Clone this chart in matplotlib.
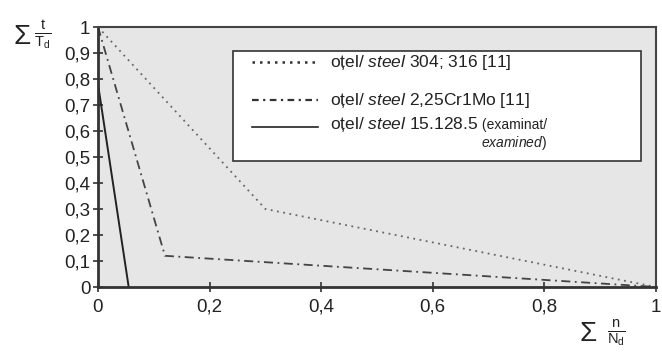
import matplotlib
matplotlib.use("Agg")
import matplotlib.pyplot as plt
from matplotlib.patches import Rectangle
from matplotlib.lines import Line2D

plt.rcParams['font.family'] = ['Liberation Sans', 'DejaVu Sans']
plt.rcParams['mathtext.fontset'] = 'custom'
plt.rcParams['mathtext.rm'] = 'Liberation Sans'
plt.rcParams['mathtext.it'] = 'Liberation Sans:italic'
plt.rcParams['mathtext.bf'] = 'Liberation Sans:bold'

# Data
steel_304_x = [0.0, 0.30, 1.0]
steel_304_y = [1.0, 0.30, 0.0]
steel_cr_x = [0.0, 0.12, 1.0]
steel_cr_y = [1.0, 0.12, 0.0]
steel_exam_x = [0.0, 0.055]
steel_exam_y = [0.78, 0.0]

xticks = [0, 0.2, 0.4, 0.6, 0.8, 1.0]
xticklabels = ["0", "0,2", "0,4", "0,6", "0,8", "1"]
yticks = [0, 0.1, 0.2, 0.3, 0.4, 0.5, 0.6, 0.7, 0.8, 0.9, 1.0]
yticklabels = ["0", "0,1", "0,2", "0,3", "0,4", "0,5", "0,6", "0,7", "0,8", "0,9", "1"]

fig = plt.figure(figsize=(6.62, 3.56), dpi=100)
ax = fig.add_axes([98/662, 69/356, 558/662, 260/356])
ax.set_facecolor('#e6e6e6')

ax.plot(steel_304_x, steel_304_y, color='#666666', lw=1.3, ls=(0, (1, 2.5)))
ax.plot(steel_cr_x, steel_cr_y, color='#444444', lw=1.3, ls=(0, (5, 2.5, 1, 2.5)))
ax.plot(steel_exam_x, steel_exam_y, color='#222222', lw=1.4, ls='-')

ax.set_xlim(0, 1)
ax.set_ylim(0, 1)
ax.set_xticks(xticks)
ax.set_xticklabels(xticklabels)
ax.set_yticks(yticks)
ax.set_yticklabels(yticklabels)
ax.tick_params(axis='both', direction='inout', length=7, width=1.2, color='#333333',
               labelsize=13.5, labelcolor='#222222')
ax.tick_params(axis='x', pad=5)
ax.tick_params(axis='y', pad=2)
for s in ['left', 'bottom']:
    ax.spines[s].set_linewidth(2.0)
    ax.spines[s].set_color('#333333')
for s in ['top', 'right']:
    ax.spines[s].set_linewidth(1.5)
    ax.spines[s].set_color('#444444')

# Manual legend
def axx(px):
    return (px - 98) / 558
def axy(py):
    return (287 - py) / 260

ax.add_patch(Rectangle((axx(233), axy(161)), axx(641) - axx(233), axy(51) - axy(161),
                       transform=ax.transAxes, facecolor='white', edgecolor='#333333',
                       lw=1.2, zorder=5))
rows = [62, 100, 127]
styles = [dict(color='#333333', lw=1.8, ls=(0, (1, 2))),
          dict(color='#333333', lw=1.6, ls=(0, (3, 2, 1, 2))),
          dict(color='#222222', lw=1.2, ls='-')]
for py, st in zip(rows, styles):
    ax.add_line(Line2D([axx(252), axx(318)], [axy(py), axy(py)], transform=ax.transAxes,
                       zorder=6, **st))

fs = 12.5
t1 = ax.text(axx(330), axy(62), "oțel/ $\\mathit{steel}$ 304; 316 [11]", transform=ax.transAxes,
             fontsize=fs, va='center', ha='left', zorder=7, color='#222222')
t2 = ax.text(axx(330), axy(100), "oțel/ $\\mathit{steel}$ 2,25Cr1Mo [11]", transform=ax.transAxes,
             fontsize=fs, va='center', ha='left', zorder=7, color='#222222')
t3 = ax.text(axx(330), axy(125), "oțel/ $\\mathit{steel}$ 15.128.5", transform=ax.transAxes,
             fontsize=fs, va='center', ha='left', zorder=7, color='#222222')
t4 = ax.annotate(" (examinat/", xy=(1, 0), xycoords=t3, xytext=(0, 1.5),
                 textcoords='offset points', fontsize=10, va='bottom', ha='left',
                 zorder=7, color='#222222')
t5 = ax.annotate("$\\mathit{examined}$)", xy=(1, 0), xycoords=t4, xytext=(0, -1),
                 textcoords='offset points', fontsize=10, va='top', ha='right',
                 zorder=7, color='#222222')

# Axis labels
fig.text(22/662, 1 - 37/356, "$\\Sigma$", fontsize=20, va='center', ha='center', color='#222222')
fig.text(43/662, 1 - 35/356, "$\\frac{\\mathrm{t}}{\\mathrm{T_d}}$", fontsize=15, va='center',
         ha='center', color='#222222')
fig.text(588/662, 1 - 334/356, "$\\Sigma$", fontsize=20, va='center', ha='center', color='#222222')
fig.text(616/662, 1 - 333/356, "$\\frac{\\mathrm{n}}{\\mathrm{N_d}}$", fontsize=15, va='center',
         ha='center', color='#222222')

fig.savefig("out.png", dpi=100, facecolor='white')
